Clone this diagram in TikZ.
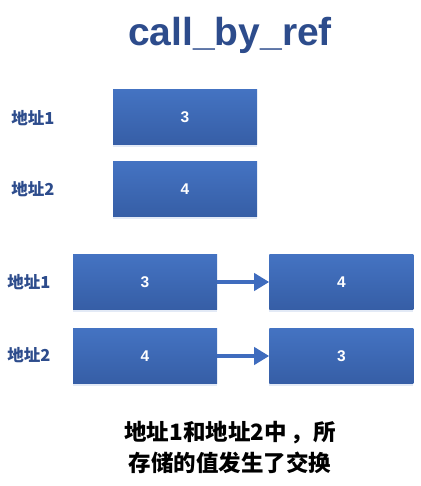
\documentclass[tikz,border=0pt]{standalone}
\usepackage{fontspec}
\setmainfont{Liberation Sans}
\newfontfamily\cjk{Noto Sans CJK SC}
\usepackage{tikz}
\usetikzlibrary{positioning, arrows.meta, shadows}
\definecolor{titleblue}{HTML}{2D4C8C}
\definecolor{boxlight}{HTML}{4473C2}
\definecolor{boxdark}{HTML}{365EA6}
\definecolor{arrowblue}{HTML}{3F6CBE}

\begin{document}
\begin{tikzpicture}[x=1pt, y=-1pt,
    cell/.style = {minimum width=144pt, minimum height=55pt, inner sep=0pt,
        top color=boxlight, bottom color=boxdark,
        drop shadow={shadow xshift=0pt, shadow yshift=-2pt, opacity=0.25, fill=boxlight!60},
        text=white, font=\bfseries\fontsize{15.5}{17}\selectfont},
    addr/.style = {text=titleblue, font=\cjk\bfseries\fontsize{16.5}{18}\selectfont},
    swap/.style = {-{Triangle[length=15pt, width=17pt]}, line width=4pt, arrowblue}]
    \useasboundingbox (0,0) rectangle (420,486);
    \node[text=titleblue, font=\bfseries\fontsize{39}{44}\selectfont] (title) at (230,35) {call\_by\_ref};
        % before
        \node[cell] (A1) at (185,117.5) {3};
        \node[cell] (A2) at (185,189) {4};
        \node[addr] (LA1) at (33,118) {地址1};
        \node[addr] (LA2) at (33,189) {地址2};

        % after
        \node[cell] (B1) at (145,282) {3};
        \node[cell] (C1) [right=52pt of B1] {4};
        \node[cell] (B2) at (145,356) {4};
        \node[cell] (C2) [right=52pt of B2] {3};
        \node[addr] (LB1) at (29,282) {地址1};
        \node[addr] (LB2) at (29,355) {地址2};

        \draw[swap] (B1) -- (C1);
        \draw[swap] (B2) -- (C2);

    \node[font=\cjk\bfseries\fontsize{22.5}{31}\selectfont, align=center] (note) at (230,447)
        {地址1和地址2中\,，所\\存储的值发生了交换};
\end{tikzpicture}
\end{document}
